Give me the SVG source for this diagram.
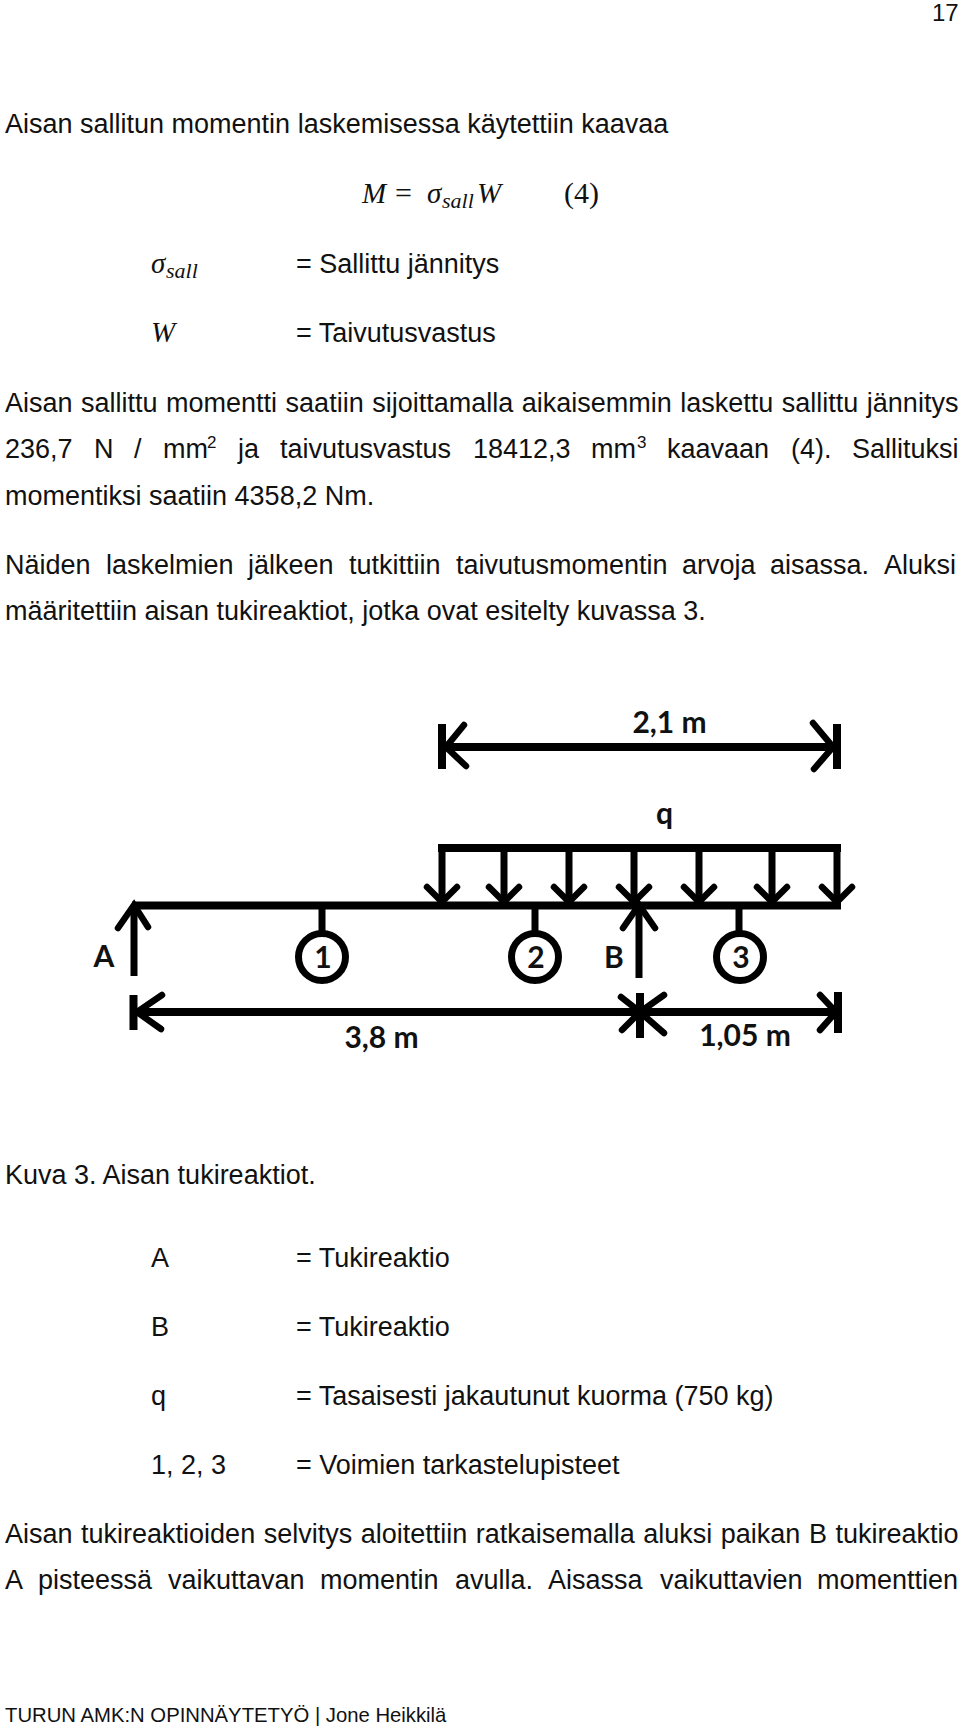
<svg xmlns="http://www.w3.org/2000/svg" width="960" height="1731" viewBox="0 0 960 1731">
<style>
.t{font-family:"Liberation Sans",Arial,sans-serif;font-size:27px;fill:#111}
.m{font-family:"Liberation Serif","DejaVu Serif",serif;font-style:italic;font-size:29px;fill:#111}
.s{font-family:"Liberation Serif","DejaVu Serif",serif;font-style:italic;font-size:22px;fill:#111}
.n{font-family:"Liberation Serif","DejaVu Serif",serif;font-size:30px;fill:#111}
.d{font-family:Lato,"Open Sans",sans-serif;font-weight:700;font-size:30px;fill:#111;text-anchor:middle}
.l{fill:none;stroke:#000;stroke-width:8}
.v{fill:none;stroke:#000;stroke-width:7}
.h{fill:none;stroke:#000;stroke-width:6.500;stroke-linecap:round}
.c{fill:#fff;stroke:#000;stroke-width:7}
</style>
<rect width="960" height="1731" fill="#fff"/>
<g id="page-text">
<text class="t" x="932" y="21" style="font-size:24px">17</text>
<text class="t" x="5" y="133">Aisan sallitun momentin laskemisessa käytettiin kaavaa</text>
<text class="m" x="362" y="203">M</text><text class="n" x="395" y="203">=</text><text class="m" x="427" y="203">σ</text><text class="s" x="442" y="208">sall</text><text class="m" x="477" y="203">W</text><text class="n" x="564" y="203">(4)</text>
<text class="m" x="151" y="273">σ</text><text class="s" x="166" y="278">sall</text><text class="t" x="296" y="273">= Sallittu jännitys</text>
<text class="m" x="151" y="342">W</text><text class="t" x="296" y="342">= Taivutusvastus</text>
<text class="t" x="5" y="412" word-spacing="1">Aisan sallittu momentti saatiin sijoittamalla aikaisemmin laskettu sallittu jännitys</text>
<text class="t" y="458"><tspan x="5">236,7</tspan><tspan x="94">N</tspan><tspan x="134">/</tspan><tspan x="163">mm</tspan><tspan x="207" y="448" font-size="17">2</tspan><tspan x="238" y="458">ja</tspan><tspan x="280">taivutusvastus</tspan><tspan x="473">18412,3</tspan><tspan x="591">mm</tspan><tspan x="637" y="448" font-size="17">3</tspan><tspan x="667" y="458">kaavaan</tspan><tspan x="791">(4).</tspan><tspan x="852">Sallituksi</tspan></text>
<text class="t" x="5" y="505">momentiksi saatiin 4358,2 Nm.</text>
<text class="t" y="574"><tspan x="5">Näiden</tspan><tspan x="106">laskelmien</tspan><tspan x="248">jälkeen</tspan><tspan x="349">tutkittiin</tspan><tspan x="456">taivutusmomentin</tspan><tspan x="682">arvoja</tspan><tspan x="770">aisassa.</tspan><tspan x="884">Aluksi</tspan></text>
<text class="t" x="5" y="620">määritettiin aisan tukireaktiot, jotka ovat esitelty kuvassa 3.</text>
<text class="t" x="5" y="1184">Kuva 3. Aisan tukireaktiot.</text>
<text class="t" x="151" y="1267">A</text><text class="t" x="296" y="1267">= Tukireaktio</text>
<text class="t" x="151" y="1336">B</text><text class="t" x="296" y="1336">= Tukireaktio</text>
<text class="t" x="151" y="1405">q</text><text class="t" x="296" y="1405">= Tasaisesti jakautunut kuorma (750 kg)</text>
<text class="t" x="151" y="1474">1, 2, 3</text><text class="t" x="296" y="1474">= Voimien tarkastelupisteet</text>
<text class="t" x="5" y="1543" word-spacing="1">Aisan tukireaktioiden selvitys aloitettiin ratkaisemalla aluksi paikan B tukireaktio</text>
<text class="t" y="1589"><tspan x="5">A</tspan><tspan x="38">pisteessä</tspan><tspan x="168">vaikuttavan</tspan><tspan x="320">momentin</tspan><tspan x="455">avulla.</tspan><tspan x="548">Aisassa</tspan><tspan x="660">vaikuttavien</tspan><tspan x="817">momenttien</tspan></text>
<text class="t" x="5" y="1722" style="font-size:20.3px">TURUN AMK:N OPINNÄYTETYÖ | Jone Heikkilä</text>
</g>
<g id="connectors">
<path class="l" d="M442 724V769M837 724V769M442 747H837M438 848H841M132 905.500H841M133.500 995V1030M640 993V1038M838 992V1033M133 1012H838"/>
<path class="h" d="M464 725L446 747L466 766M813 723L833 747L814 769"/>
<path class="v" d="M442 848V900M504 848V900M569 848V900M634 848V900M699 848V900M772 848V900M837 848V900M134 976V905M639 978V905M322 905V932M535 905V932M739 905V932"/>
<path class="h" d="M427 887L442 902L457 887M489 887L504 902L519 887M554 887L569 902L584 887M619 887L634 902L649 887M684 887L699 902L714 887M757 887L772 902L787 887M822 887L837 902L852 887"/>
<path class="h" d="M118 928L134 905L148 927M623 928L639 905L655 928"/>
<path class="h" d="M162 995L137 1012L161 1029M621 997L640 1012L622 1030M664 995L640 1012L664 1033M820 995L836 1012L820 1030"/>
</g>
<g id="node-1"><ellipse class="c" cx="322" cy="957" rx="23.500" ry="23.500"/><text class="d" x="323" y="968">1</text></g>
<g id="node-2"><ellipse class="c" cx="535" cy="957" rx="23.500" ry="23.500"/><text class="d" x="536" y="968">2</text></g>
<g id="node-3"><ellipse class="c" cx="740" cy="957" rx="23.500" ry="23.500"/><text class="d" x="741" y="968">3</text></g>
<g id="labels">
<text class="d" x="669.500" y="733">2,1 m</text>
<text class="d" x="664.500" y="824">q</text>
<text class="d" x="104" y="967">A</text>
<text class="d" x="614" y="968">B</text>
<text class="d" x="381.500" y="1048">3,8 m</text>
<text class="d" x="745" y="1046">1,05 m</text>
</g>
</svg>
